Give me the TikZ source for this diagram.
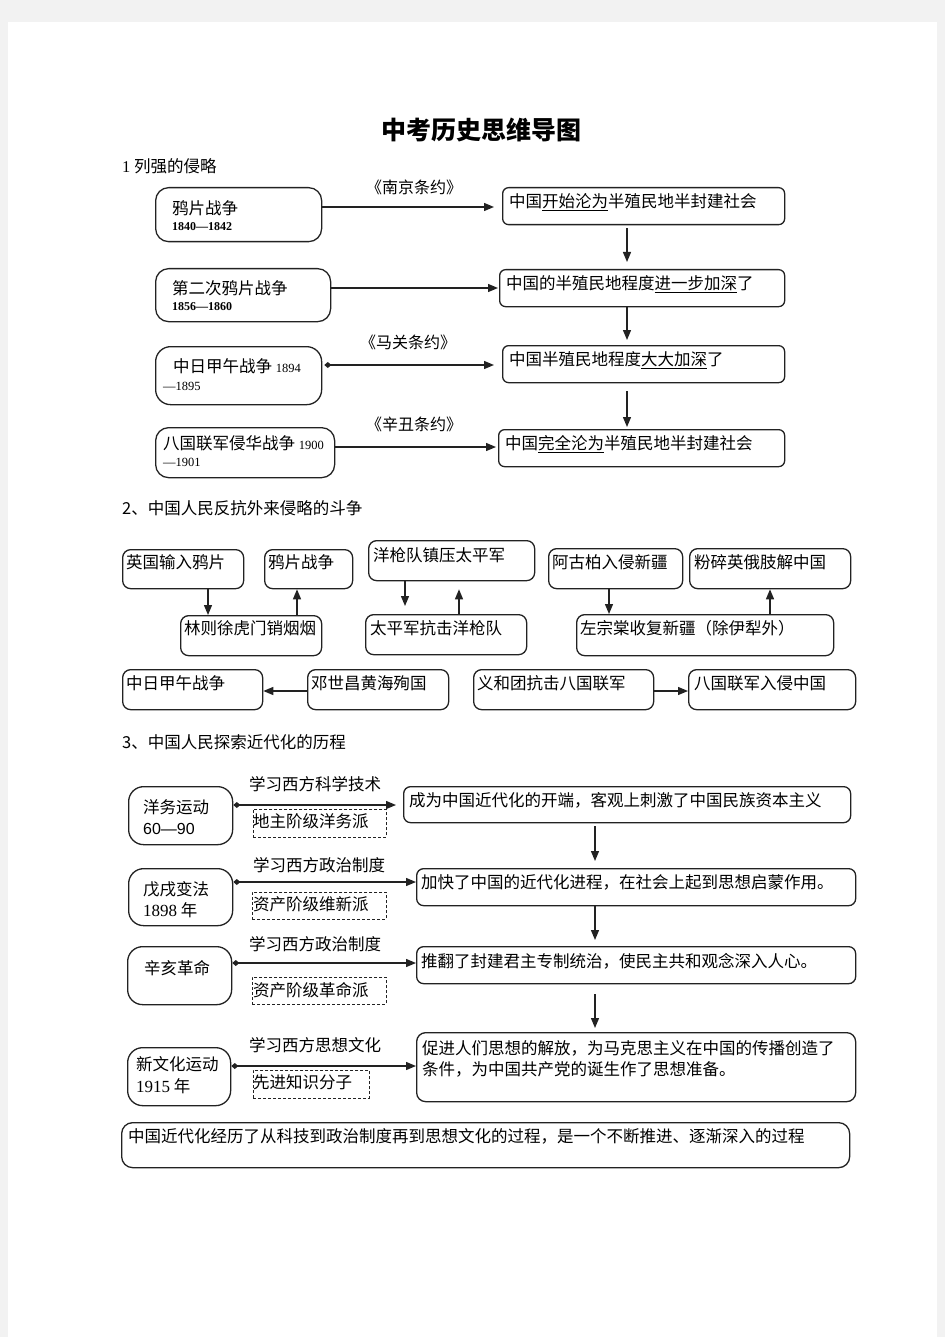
\documentclass[tikz,border=0pt]{standalone}
\usepackage{fontspec}
\setmainfont{Noto Sans CJK SC}
\newfontfamily\ser{Liberation Serif}
\newfontfamily\lsans{Liberation Sans}
\usetikzlibrary{arrows.meta}
\definecolor{bg}{HTML}{F2F2F2}
\definecolor{ln}{HTML}{222222}
\tikzset{
  rb/.style={draw=ln, line width=1.3pt, rounded corners=#1, inner sep=0pt},
  rb/.default=7pt,
  dbox/.style={draw=ln, line width=0.9pt, dash pattern=on 3pt off 2pt, inner sep=0pt},
  txt/.style={inner sep=0pt, anchor=west, font=\fontsize{16.5}{20}\selectfont},
  ctxt/.style={inner sep=0pt, font=\fontsize{16.5}{20}\selectfont},
  treaty/.style={inner sep=0pt, font=\fontsize{16}{18}\selectfont},
  yr/.style={inner sep=0pt, anchor=west, font=\ser\bfseries\fontsize{12}{14}\selectfont},
  conn/.style={draw=ln, line width=1.3pt, -{Triangle[length=10pt,width=8pt]}},
  dconn/.style={draw=ln, line width=1.3pt, {Diamond[length=7pt,width=6pt]}-{Triangle[length=10pt,width=8pt]}},
}
\newcommand\bx[6]{\node[#6, minimum width={(#4-#2)*1pt}, minimum height={(#5-#3)*1pt}, anchor=north west] (#1) at (#2,#3) {};}
\begin{document}
\begin{tikzpicture}[x=1pt,y=-1pt]
\useasboundingbox (0,0) rectangle (945,1337);
\fill[bg] (0,0) rectangle (945,1337);
\fill[white] (8,22) rectangle (937,1337);

% title and headings
\node[inner sep=0pt, font=\bfseries\fontsize{25}{30}\selectfont] (title) at (481,130) {中考历史思维导图};
\node[txt] (h1) at (122,166) {{\ser 1} 列强的侵略};
\node[txt] (h2) at (122,508) {2、中国人民反抗外来侵略的斗争};
\node[txt] (h3) at (122,742) {3、中国人民探索近代化的历程};

% ---------- section 1 ----------
\bx{A1}{155}{187}{321}{241}{rb=13pt}
\bx{A2}{155}{268}{330}{321}{rb=13pt}
\bx{A3}{155}{346}{321}{404}{rb=15pt}
\bx{A4}{155}{427}{334}{477}{rb=13pt}
\bx{B1}{502}{187}{784}{224}{rb=6pt}
\bx{B2}{499}{269}{784}{306}{rb=6pt}
\bx{B3}{502}{345}{784}{382}{rb=6pt}
\bx{B4}{498}{429}{784}{466}{rb=6pt}

\node[txt] (A1t) at (172,208) {鸦片战争};
\node[yr] (A1y) at (172,227) {1840—1842};
\node[txt] (A2t) at (172,288) {第二次鸦片战争};
\node[yr] (A2y) at (172,307) {1856—1860};
\node[txt] (A3t) at (173,366) {中日甲午战争 {\ser\fontsize{12.5}{14}\selectfont 1894}};
\node[txt] (A3y) at (163,386) {\ser\fontsize{12.5}{14}\selectfont —1895};
\node[txt] (A4t) at (163,443) {八国联军侵华战争 {\ser\fontsize{12.5}{14}\selectfont 1900}};
\node[txt] (A4y) at (163,462) {\ser\fontsize{12.5}{14}\selectfont —1901};

\node[txt] (B1t) at (509,202) {中国\underline{开始沦为}半殖民地半封建社会};
\node[txt] (B2t) at (506,284) {中国的半殖民地程度\underline{进一步加深}了};
\node[txt] (B3t) at (509,360) {中国半殖民地程度\underline{大大加深}了};
\node[txt] (B4t) at (505,444) {中国\underline{完全沦为}半殖民地半封建社会};

\node[treaty] (T1) at (414,187) {《南京条约》};
\node[treaty] (T2) at (408,342) {《马关条约》};
\node[treaty] (T3) at (414,424) {《辛丑条约》};

\coordinate (c1) at (0,207);
\coordinate (c2) at (0,288);
\coordinate (c3) at (0,365);
\coordinate (c4) at (0,447);
\draw[conn, shorten >=8pt] (A1.east |- c1) -- (B1.west |- c1);
\draw[conn, shorten >=1pt] (A2.east |- c2) -- (B2.west |- c2);
\draw[dconn, shorten <=2pt, shorten >=8pt] (A3.east |- c3) -- (B3.west |- c3);
\draw[conn, shorten >=2pt] (A4.east |- c4) -- (B4.west |- c4);

\coordinate (v1) at (627,0);
\draw[conn, shorten <=3pt, shorten >=7pt] (B1.south -| v1) -- (B2.north -| v1);
\draw[conn, shorten >=5pt] (B2.south -| v1) -- (B3.north -| v1);
\draw[conn, shorten <=8pt, shorten >=2pt] (B3.south -| v1) -- (B4.north -| v1);

% ---------- section 2 ----------
\bx{C1}{122}{549}{243}{588}{rb=8pt}
\bx{C2}{264}{549}{352}{588}{rb=8pt}
\bx{C3}{180}{615}{321}{655}{rb=8pt}
\bx{C4}{368}{540}{534}{580}{rb=8pt}
\bx{C5}{365}{614}{526}{654}{rb=8pt}
\bx{C6}{548}{548}{682}{588}{rb=8pt}
\bx{C7}{689}{548}{850}{588}{rb=8pt}
\bx{C8}{576}{614}{833}{655}{rb=8pt}
\bx{C9}{122}{669}{262}{709}{rb=8pt}
\bx{C10}{307}{669}{448}{709}{rb=8pt}
\bx{C11}{473}{669}{653}{709}{rb=8pt}
\bx{C12}{688}{669}{855}{709}{rb=8pt}

\node[txt] (C1t) at (126,562) {英国输入鸦片};
\node[txt] (C2t) at (268,562) {鸦片战争};
\node[txt] (C3t) at (184,628) {林则徐虎门销烟烟};
\node[txt] (C4t) at (373,555) {洋枪队镇压太平军};
\node[txt] (C5t) at (370,628) {太平军抗击洋枪队};
\node[txt] (C6t) at (552,562) {阿古柏入侵新疆};
\node[txt] (C7t) at (694,562) {粉碎英俄肢解中国};
\node[txt] (C8t) at (580,628) {左宗棠收复新疆（除伊犁外）};
\node[txt] (C9t) at (126,683) {中日甲午战争};
\node[txt] (C10t) at (311,683) {邓世昌黄海殉国};
\node[txt] (C11t) at (477,683) {义和团抗击八国联军};
\node[txt] (C12t) at (694,683) {八国联军入侵中国};

\coordinate (x1) at (208,0);
\coordinate (x2) at (297,0);
\coordinate (x3) at (405,0);
\coordinate (x4) at (459,0);
\coordinate (x5) at (609,0);
\coordinate (x6) at (770,0);
\draw[conn] (C1.south -| x1) -- (C3.north -| x1);
\draw[conn] (C3.north -| x2) -- (C2.south -| x2);
\draw[conn, shorten >=8pt] (C4.south -| x3) -- (C5.north -| x3);
\draw[conn, shorten >=8pt] (C5.north -| x4) -- (C4.south -| x4);
\draw[conn] (C6.south -| x5) -- (C8.north -| x5);
\draw[conn] (C8.north -| x6) -- (C7.south -| x6);
\coordinate (y1) at (0,691);
\draw[conn] (C10.west |- y1) -- (C9.east |- y1);
\draw[conn] (C11.east |- y1) -- (C12.west |- y1);

% ---------- section 3 ----------
\bx{D1}{128}{786}{232}{844}{rb=15pt}
\bx{D2}{128}{868}{232}{925}{rb=15pt}
\bx{D3}{127}{946}{231}{1004}{rb=15pt}
\bx{D4}{127}{1047}{230}{1105}{rb=15pt}
\bx{E1}{253}{809}{386}{837}{dbox}
\bx{E2}{252}{892}{386}{919}{dbox}
\bx{E3}{252}{977}{386}{1004}{dbox}
\bx{E4}{253}{1070}{369}{1098}{dbox}
\bx{F1}{403}{786}{850}{822}{rb=7pt}
\bx{F2}{416}{868}{855}{905}{rb=7pt}
\bx{F3}{416}{946}{855}{983}{rb=7pt}
\bx{F4}{416}{1032}{855}{1101}{rb=9pt}
\bx{G}{121}{1122}{849}{1167}{rb=11pt}

\node[txt] (D1t) at (143,807) {洋务运动};
\node[txt] (D1y) at (143,829) {\lsans\fontsize{16}{18}\selectfont 60—90};
\node[txt] (D2t) at (143,889) {戊戌变法};
\node[txt] (D2y) at (143,910) {{\ser\fontsize{17}{18}\selectfont 1898} 年};
\node[txt] (D3t) at (144,968) {辛亥革命};
\node[txt] (D4t) at (136,1064) {新文化运动};
\node[txt] (D4y) at (136,1086) {{\ser\fontsize{17}{18}\selectfont 1915} 年};

\node[ctxt] (L1) at (315,784) {学习西方科学技术};
\node[ctxt] (L2) at (319,865) {学习西方政治制度};
\node[ctxt] (L3) at (315,944) {学习西方政治制度};
\node[ctxt] (L4) at (315,1045) {学习西方思想文化};

\node[txt] (E1t) at (253,821) {地主阶级洋务派};
\node[txt] (E2t) at (253,904) {资产阶级维新派};
\node[txt] (E3t) at (253,990) {资产阶级革命派};
\node[txt] (E4t) at (253,1082) {先进知识分子};

\node[txt] (F1t) at (409,800) {成为中国近代化的开端，客观上刺激了中国民族资本主义};
\node[txt] (F2t) at (421,882) {加快了中国的近代化进程，在社会上起到思想启蒙作用。};
\node[txt] (F3t) at (421,961) {推翻了封建君主专制统治，使民主共和观念深入人心。};
\node[inner sep=0pt, anchor=north west, align=left, font=\fontsize{16.5}{21}\selectfont] (F4t) at (422,1040) {促进人们思想的解放，为马克思主义在中国的传播创造了\\条件，为中国共产党的诞生作了思想准备。};
\node[txt] (Gt) at (128,1136) {中国近代化经历了从科技到政治制度再到思想文化的过程，是一个不断推进、逐渐深入的过程};

\coordinate (d1) at (0,805);
\coordinate (d2) at (0,882);
\coordinate (d3) at (0,963);
\coordinate (d4) at (0,1066);
\draw[dconn, shorten >=7pt] (D1.east |- d1) -- (F1.west |- d1);
\draw[dconn] (D2.east |- d2) -- (F2.west |- d2);
\draw[dconn] (D3.east |- d3) -- (F3.west |- d3);
\draw[dconn] (D4.east |- d4) -- (F4.west |- d4);

\coordinate (v2) at (595,0);
\draw[conn, shorten <=3pt, shorten >=7pt] (F1.south -| v2) -- (F2.north -| v2);
\draw[conn, shorten >=6pt] (F2.south -| v2) -- (F3.north -| v2);
\draw[conn, shorten <=10pt, shorten >=4pt] (F3.south -| v2) -- (F4.north -| v2);
\end{tikzpicture}
\end{document}
